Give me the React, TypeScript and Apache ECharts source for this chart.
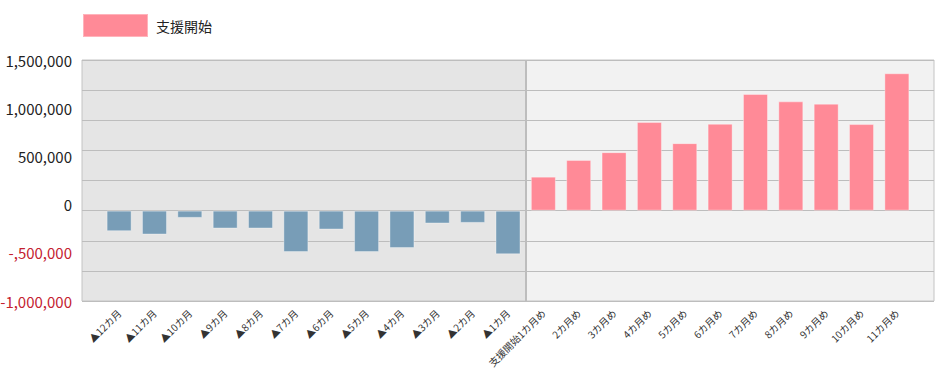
import React, { useEffect, useRef } from "react";
import * as echarts from "echarts";

const categories = [
  "▲12カ月", "▲11カ月", "▲10カ月", "▲9カ月", "▲8カ月", "▲7カ月",
  "▲6カ月", "▲5カ月", "▲4カ月", "▲3カ月", "▲2カ月", "▲1カ月",
  "支援開始1カ月め", "2カ月め", "3カ月め", "4カ月め", "5カ月め", "6カ月め",
  "7カ月め", "8カ月め", "9カ月め", "10カ月め", "11カ月め",
];

const beforeValues = [
  -205000, -238000, -72000, -178000, -178000, -412000,
  -188000, -412000, -372000, -128000, -122000, -435000,
];

const afterValues = [
  338000, 505000, 582000, 882000, 672000, 865000,
  1162000, 1088000, 1065000, 862000, 1368000,
];

const yTickValues = [-1000000, -500000, 0, 500000, 1000000, 1500000];
const yTickLabels = ["-1,000,000", "-,500,000", "0", "500,000", "1,000,000", "1,500,000"];

const seriesNames = ["支援前", "支援開始"];

export default function App() {
  const ref = useRef<HTMLDivElement>(null);

  useEffect(() => {
    document.body.style.margin = "0";
    if (!ref.current) return;
    const chart = echarts.init(ref.current, null, { renderer: "svg" });
    const xMin = -1.05;
    const xMax = 23.05;
    const split = beforeValues.length - 0.5;
    const indices = categories.map((_, i) => i);
    const font = "'Noto Sans CJK JP', 'Noto Sans', sans-serif";

    chart.setOption({
      animation: false,
      backgroundColor: "#ffffff",
      textStyle: { fontFamily: font },
      legend: {
        data: [seriesNames[1]],
        left: 82,
        top: 13,
        padding: 0,
        itemWidth: 65,
        itemHeight: 23,
        icon: "rect",
        textStyle: { fontSize: 14, color: "#222", fontFamily: font, padding: [0, 0, 0, 3] },
      },
      grid: {
        left: 82,
        right: 7,
        top: 60,
        bottom: 84,
        show: true,
        containLabel: false,
        outerBoundsMode: "none",
        backgroundColor: "transparent",
        borderColor: "#c4c4c4",
        borderWidth: 1,
      },
      xAxis: {
        type: "value",
        min: xMin,
        max: xMax,
        axisLine: { show: false },
        axisTick: { show: false },
        splitLine: { show: false },
        axisLabel: {
          customValues: indices,
          formatter: (v: number) => categories[Math.round(v)] ?? "",
          rotate: 45,
          fontSize: 10,
          color: "#333",
          margin: 10,
          fontFamily: font,
        },
      },
      yAxis: [
        {
          type: "value",
          z: 1.5,
          min: -900000,
          max: 1500000,
          interval: 300000,
          axisLabel: { show: false },
          axisLine: { show: false },
          axisTick: { show: false },
          splitLine: { lineStyle: { color: "#bdbdbd", width: 1 } },
        },
        {
          type: "value",
          position: "left",
          min: -1000000,
          max: 1500000,
          interval: 500000,
          axisLine: { show: false },
          axisTick: { show: false },
          splitLine: { show: false },
          axisLabel: {
            fontSize: 15,
            margin: 10,
            fontFamily: font,
            formatter: (v: number) => {
              const i = yTickValues.indexOf(v);
              return i >= 0 ? yTickLabels[i] : "";
            },
            color: (v: any) => (Number(v) < 0 ? "#c4212f" : "#222"),
          },
        },
      ],
      series: [
        {
          type: "line",
          name: "bg",
          z: -1,
          data: [],
          markArea: {
            silent: true,
            z: -1,
            data: [
              [{ xAxis: xMin, itemStyle: { color: "#e5e5e5" } }, { xAxis: split }],
              [{ xAxis: split, itemStyle: { color: "#f2f2f2" } }, { xAxis: xMax }],
            ],
          },
          markLine: {
            silent: true,
            z: 1.6,
            symbol: "none",
            label: { show: false },
            lineStyle: { color: "#bdbdbd", width: 2, type: "solid" },
            data: [{ xAxis: split }],
          },
        },
        {
          type: "bar",
          name: seriesNames[0],
          stack: "s",
          barWidth: 25,
          itemStyle: { color: "#789db7", borderColor: "rgba(255,255,255,0.35)", borderWidth: 1 },
          data: beforeValues.map((v, i) => [i, v]),
        },
        {
          type: "bar",
          name: seriesNames[1],
          stack: "s",
          barWidth: 25,
          itemStyle: { color: "#ff8a97", borderColor: "rgba(255,255,255,0.35)", borderWidth: 1 },
          data: afterValues.map((v, i) => [i + beforeValues.length, v]),
        },
      ],
    });

    return () => chart.dispose();
  }, []);

  return <div ref={ref} style={{ width: 941, height: 385 }} />;
}
